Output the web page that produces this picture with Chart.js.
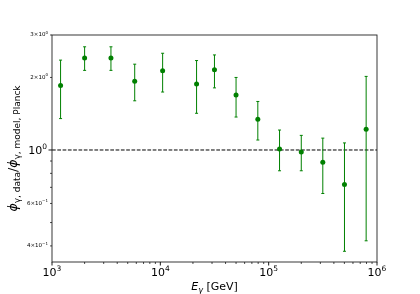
<!DOCTYPE html>
<html>
<head>
<meta charset="utf-8">
<script src="https://cdn.jsdelivr.net/npm/chart.js@4/dist/chart.umd.min.js"></script>
<style>
  html, body { margin: 0; padding: 0; background: #fff; }
  #wrap { width: 420px; height: 294px; }
</style>
</head>
<body>
<div id="wrap"><canvas id="c" width="420" height="294"></canvas></div>
<script>
// ---- data ----
const energies = [1200, 2000, 3500, 5800, 10500, 21600, 31600, 50000, 79400, 126000, 200000, 316000, 501000, 794000];
const ratios   = [1.85, 2.41, 2.41, 1.93, 2.13, 1.88, 2.15, 1.69, 1.34, 1.01, 0.98, 0.89, 0.72, 1.22];
const upperBounds = [2.36, 2.68, 2.68, 2.27, 2.52, 2.35, 2.48, 2.00, 1.59, 1.21, 1.15, 1.12, 1.07, 2.02];
const lowerBounds = [1.35, 2.14, 2.14, 1.60, 1.74, 1.42, 1.81, 1.37, 1.10, 0.82, 0.82, 0.66, 0.38, 0.42];

const xRange = [1e3, 1e6];
const yRange = [0.343, 3.0];
const xMajorTicks = [1e3, 1e4, 1e5, 1e6];
const xMajorExponents = ['3', '4', '5', '6'];
const yMajorTicks = [1];
const yMajorExponents = ['0'];
const yMinorLabelValues = [0.4, 0.6, 2, 3];
const yMinorMantissas = ['4', '6', '2', '3'];
const yMinorExponents = ['\u22121', '\u22121', '0', '0'];
const referenceLevel = 1;

const GREEN = '#008000';
const FONT = '"DejaVu Sans", sans-serif';

function minorTicks(lo, hi) {
  const out = [];
  for (let e = Math.floor(Math.log10(lo)); e <= Math.ceil(Math.log10(hi)); e++) {
    for (let m = 2; m <= 9; m++) {
      const v = m * Math.pow(10, e);
      if (v >= lo * 0.9999 && v <= hi * 1.0001) out.push(v);
    }
  }
  return out;
}

function drawSup(ctx, base, exp, x, y, align, baseSize, supSize) {
  ctx.font = baseSize + 'px ' + FONT;
  const wb = ctx.measureText(base).width;
  ctx.font = supSize + 'px ' + FONT;
  const we = ctx.measureText(exp).width;
  const total = wb + we;
  let x0 = x;
  if (align === 'center') x0 = x - total / 2;
  else if (align === 'right') x0 = x - total;
  ctx.textAlign = 'left';
  ctx.textBaseline = 'middle';
  ctx.font = baseSize + 'px ' + FONT;
  ctx.fillText(base, x0, y);
  ctx.font = supSize + 'px ' + FONT;
  ctx.fillText(exp, x0 + wb, y - baseSize * 0.38);
}

function drawRich(ctx, parts, x, y) {
  let total = 0;
  parts.forEach(p => {
    ctx.font = (p.italic ? 'italic ' : '') + p.size + 'px ' + FONT;
    p.w = ctx.measureText(p.t).width;
    total += p.w;
  });
  let cx = x - total / 2;
  ctx.textAlign = 'left';
  ctx.textBaseline = 'alphabetic';
  parts.forEach(p => {
    ctx.font = (p.italic ? 'italic ' : '') + p.size + 'px ' + FONT;
    ctx.fillText(p.t, cx, y + (p.dy || 0));
    cx += p.w;
  });
}

const decorPlugin = {
  id: 'decor',
  beforeDatasetsDraw(chart) {
    const ctx = chart.ctx;
    const xs = chart.scales.x, ys = chart.scales.y;
    const a = chart.chartArea;
    ctx.save();
    ctx.strokeStyle = '#000';
    ctx.lineWidth = 1;
    ctx.setLineDash([3.7, 1.6]);
    const yr = ys.getPixelForValue(referenceLevel);
    ctx.beginPath();
    ctx.moveTo(a.left, yr);
    ctx.lineTo(a.right, yr);
    ctx.stroke();
    ctx.setLineDash([]);
    ctx.strokeStyle = GREEN;
    ctx.lineWidth = 1;
    for (let i = 0; i < energies.length; i++) {
      const px = xs.getPixelForValue(energies[i]);
      const pt = ys.getPixelForValue(upperBounds[i]);
      const pb = ys.getPixelForValue(lowerBounds[i]);
      ctx.beginPath();
      ctx.moveTo(px, pt); ctx.lineTo(px, pb);
      ctx.moveTo(px - 1.5, pt); ctx.lineTo(px + 1.5, pt);
      ctx.moveTo(px - 1.5, pb); ctx.lineTo(px + 1.5, pb);
      ctx.stroke();
    }
    ctx.restore();
  },
  afterDraw(chart) {
    const ctx = chart.ctx;
    const xs = chart.scales.x, ys = chart.scales.y;
    const a = chart.chartArea;
    ctx.save();
    ctx.strokeStyle = '#222';
    ctx.lineWidth = 0.9;
    ctx.strokeRect(a.left, a.top, a.right - a.left, a.bottom - a.top);
    ctx.strokeStyle = '#000';
    ctx.fillStyle = '#000';
    ctx.lineWidth = 0.9;
    xMajorTicks.forEach((v, i) => {
      const px = xs.getPixelForValue(v);
      ctx.beginPath(); ctx.moveTo(px, a.bottom); ctx.lineTo(px, a.bottom + 3.5); ctx.stroke();
      drawSup(ctx, '10', xMajorExponents[i], px, a.bottom + 11, 'center', 11, 7.5);
    });
    ctx.lineWidth = 0.7;
    minorTicks(xRange[0], xRange[1]).forEach(v => {
      const px = xs.getPixelForValue(v);
      ctx.beginPath(); ctx.moveTo(px, a.bottom); ctx.lineTo(px, a.bottom + 2); ctx.stroke();
    });
    ctx.lineWidth = 0.9;
    yMajorTicks.forEach((v, i) => {
      const py = ys.getPixelForValue(v);
      ctx.beginPath(); ctx.moveTo(a.left, py); ctx.lineTo(a.left - 3.5, py); ctx.stroke();
      drawSup(ctx, '10', yMajorExponents[i], a.left - 5, py + 1, 'right', 11, 7.5);
    });
    ctx.lineWidth = 0.7;
    minorTicks(yRange[0], yRange[1]).forEach(v => {
      const py = ys.getPixelForValue(v);
      ctx.beginPath(); ctx.moveTo(a.left, py); ctx.lineTo(a.left - 2, py); ctx.stroke();
    });
    yMinorLabelValues.forEach((v, i) => {
      const py = ys.getPixelForValue(v);
      drawSup(ctx, yMinorMantissas[i] + '\u00d710', yMinorExponents[i], a.left - 4, py, 'right', 5.5, 4);
    });
    drawRich(ctx, [
      {t: 'E', size: 11, italic: true},
      {t: '\u03b3', size: 8, dy: 2.5, italic: true},
      {t: ' [GeV]', size: 11}
    ], (a.left + a.right) / 2, 290);
    ctx.translate(17, (a.top + a.bottom) / 2);
    ctx.rotate(-Math.PI / 2);
    drawRich(ctx, [
      {t: '\u03d5', size: 12.5, italic: true},
      {t: '\u03b3, data', size: 9, dy: 3},
      {t: '/', size: 12.5},
      {t: '\u03d5', size: 12.5, italic: true},
      {t: '\u03b3, model, Planck', size: 9, dy: 3}
    ], 0, 0);
    ctx.restore();
  }
};

new Chart(document.getElementById('c'), {
  type: 'scatter',
  data: {
    datasets: [{
      data: energies.map((e, i) => ({x: e, y: ratios[i]})),
      backgroundColor: GREEN,
      borderColor: GREEN,
      borderWidth: 0,
      pointRadius: 2.5,
      pointHoverRadius: 2.5
    }]
  },
  options: {
    responsive: false,
    animation: false,
    devicePixelRatio: 1,
    layout: { padding: { left: 52, right: 43, top: 35, bottom: 32 } },
    plugins: { legend: { display: false }, tooltip: { enabled: false } },
    scales: {
      x: { type: 'logarithmic', bounds: 'data', min: xRange[0], max: xRange[1], display: false },
      y: { type: 'logarithmic', bounds: 'data', min: yRange[0], max: yRange[1], display: false }
    }
  },
  plugins: [decorPlugin]
});
</script>
</body>
</html>
